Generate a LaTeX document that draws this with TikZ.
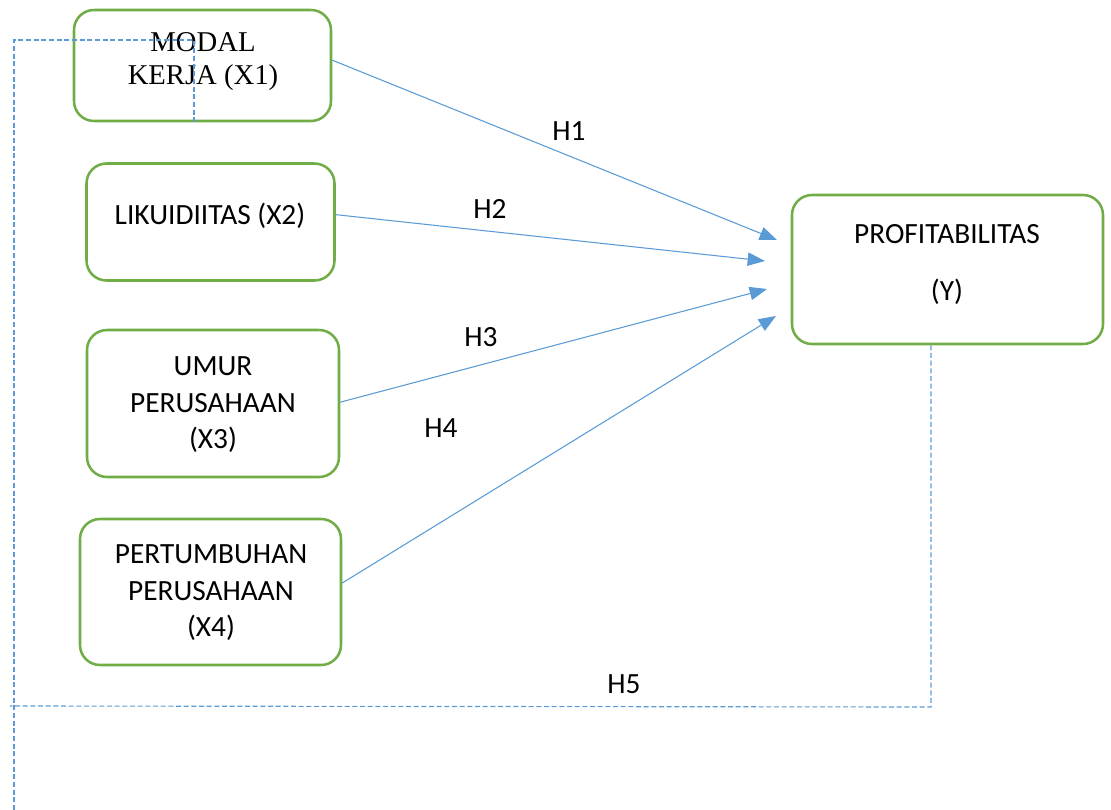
\documentclass[tikz,border=0pt]{standalone}
\usepackage{fontspec}
\setmainfont{Carlito}
\newfontfamily\timesf{Liberation Serif}
\usetikzlibrary{arrows.meta,calc}
\definecolor{boxgreen}{HTML}{70AD47}
\definecolor{lineblue}{HTML}{5B9BD5}
\begin{document}
\begin{tikzpicture}[x=0.75pt,y=-0.75pt,
  box/.style={draw=boxgreen,line width=1.9pt,rounded corners=15pt,inner sep=0pt},
  txt/.style={align=center,font=\fontsize{22}{27.4}\selectfont,inner sep=0pt},
  hlabel/.style={font=\fontsize{22}{26}\selectfont,inner sep=0pt},
  conn/.style={draw=lineblue,line width=0.8pt,-{Triangle[length=13pt,width=10pt]}},
  dashline/.style={draw=lineblue,line width=0.85pt,dash pattern=on 3.75pt off 2pt}]
\useasboundingbox (0,0) rectangle (1111,810);
% boxes
\node[box,minimum width=192.75pt,minimum height=83.25pt] (x1) at (202.5,65.5) {};
\node[box,minimum width=186pt,minimum height=87.75pt] (x2) at (210.5,222) {};
\node[box,minimum width=189pt,minimum height=110.25pt] (x3) at (213,403.5) {};
\node[box,minimum width=195.75pt,minimum height=109.5pt] (x4) at (210.5,592) {};
\node[box,minimum width=233.25pt,minimum height=111.75pt] (y) at (947.5,269.5) {};
% texts
\node[txt,font=\timesf\fontsize{21.5}{24.75}\selectfont] (x1t) at (203,62) {MODAL\\KERJA (X1)};
\node[txt] (x2t) at (210,216) {LIKUIDIITAS (X2)};
\node[txt] (x3t) at (213,405) {UMUR\\PERUSAHAAN\\(X3)};
\node[txt] (x4t) at (211,593) {PERTUMBUHAN\\PERUSAHAAN\\(X4)};
\node[txt] (yt1) at (947,234) {PROFITABILITAS};
\node[txt] (yt2) at (947,292) {(Y)};
% arrow ends
\coordinate (e1) at (777,240);
\coordinate (e2) at (765,261);
\coordinate (e3) at (767,289);
\coordinate (e4) at (776,316);
\draw[conn] ([yshift=4pt]x1.east) -- (e1);
\draw[conn] ([yshift=5.5pt]x2.east) -- (e2);
\draw[conn] ([yshift=1pt]x3.east) -- (e3);
\draw[conn] ([yshift=6.75pt]x4.east) -- (e4);
% labels
\node[hlabel] (h1) at (569,131) {H1};
\node[hlabel] (h2) at (490,209) {H2};
\node[hlabel] (h3) at (481,337) {H3};
\node[hlabel] (h4) at (441,428) {H4};
\node[hlabel] (h5) at (624,684) {H5};
% dashed lines
\coordinate (d2) at (194,40);
\coordinate (d3) at (14,40);
\coordinate (d4) at (14,810);
\coordinate (d5) at (931,707);
\coordinate (d6) at (10,706);
\draw[dashline] (x1.south -| d2) -- (d2) -- (d3) -- (d4);
\draw[dashline] (y.south -| d5) -- (d5) -- (d6);
\end{tikzpicture}
\end{document}
